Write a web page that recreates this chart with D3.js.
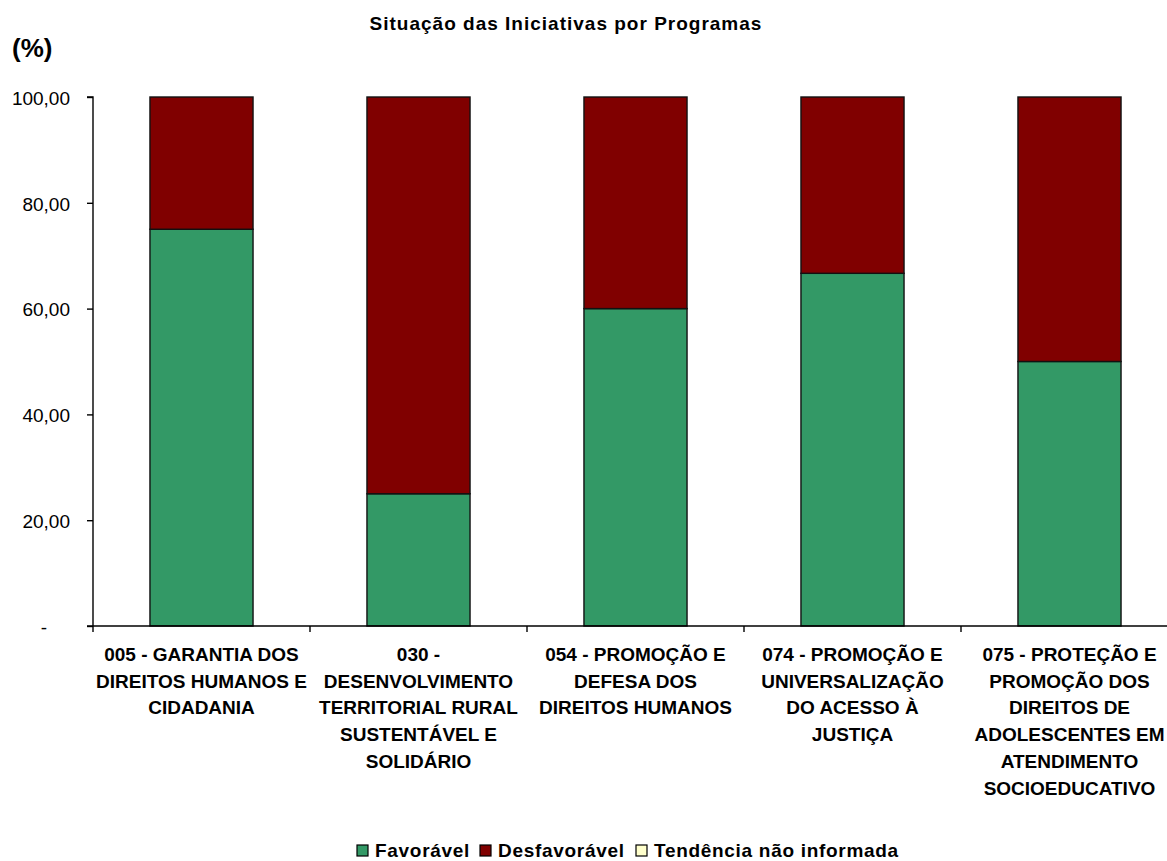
<!DOCTYPE html>
<html><head><meta charset="utf-8">
<script src="https://cdn.jsdelivr.net/npm/d3@7"></script>
<style>body{margin:0;background:#fff}svg{font-family:"Liberation Sans",Arial,sans-serif}</style>
</head><body><svg id="c" width="1167" height="861"></svg>
<script>
const categories = [
  "005 - GARANTIA DOS|DIREITOS HUMANOS E|CIDADANIA",
  "030 -|DESENVOLVIMENTO|TERRITORIAL RURAL|SUSTENTÁVEL E|SOLIDÁRIO",
  "054 - PROMOÇÃO E|DEFESA DOS|DIREITOS HUMANOS",
  "074 - PROMOÇÃO E|UNIVERSALIZAÇÃO|DO ACESSO À|JUSTIÇA",
  "075 - PROTEÇÃO E|PROMOÇÃO DOS|DIREITOS DE|ADOLESCENTES EM|ATENDIMENTO|SOCIOEDUCATIVO"
];
const favoravel = [75, 25, 60, 66.67, 50];
const desfavoravel = [25, 75, 40, 33.33, 50];
const naoInformada = [0, 0, 0, 0, 0];
const seriesNames = ["Favorável", "Desfavorável", "Tendência não informada"];
const seriesColors = ["#339966", "#800000", "#FFFFCC"];
const yTicks = [0, 20, 40, 60, 80, 100];
const yTickLabels = ["-", "20,00", "40,00", "60,00", "80,00", "100,00"];

(function () {
const svg = d3.select("#c");
const pLeft = 93, pTop = 97, pBottom = 626, bandW = 217;
const x = d3.scaleBand().domain(d3.range(categories.length))
  .range([pLeft, pLeft + bandW * categories.length]).paddingInner(0.525).paddingOuter(0.2625);
const y = d3.scaleLinear().domain([0, 100]).range([pBottom, pTop]);

const rows = categories.map((c, i) => ({i, "Favorável": favoravel[i], "Desfavorável": desfavoravel[i], "Tendência não informada": naoInformada[i]}));
const stack = d3.stack().keys(seriesNames)(rows);

svg.append("text").attr("x", 566).attr("y", 30).attr("text-anchor", "middle")
  .attr("font-size", 19).attr("font-weight", "bold").attr("letter-spacing", 1)
  .text("Situação das Iniciativas por Programas");
svg.append("text").attr("x", 12).attr("y", 57).attr("font-size", 26).attr("font-weight", "bold").text("(%)");

const ya = svg.append("g").attr("transform", `translate(${pLeft},0)`)
  .call(d3.axisLeft(y).tickValues(yTicks).tickFormat((d, i) => yTickLabels[i]).tickSize(6).tickPadding(17));
ya.select(".domain").attr("stroke", "#000").attr("stroke-width", 1.4).attr("d", `M-6,${pTop}H0V${pBottom}`);
ya.selectAll("text").attr("font-size", 19).attr("fill", "#000").attr("dy", "0.38em")
  .attr("font-family", "Liberation Sans, Arial, sans-serif");
ya.selectAll(".tick").filter(d => d === 0).select("text").attr("x", -46);
ya.selectAll("line").attr("stroke", "#000").attr("stroke-width", 1.4);

stack.forEach((s, k) => {
  svg.append("g").selectAll("rect").data(s).join("rect")
    .attr("x", d => x(d.data.i)).attr("width", x.bandwidth())
    .attr("y", d => y(d[1])).attr("height", d => y(d[0]) - y(d[1]))
    .attr("fill", seriesColors[k]).attr("stroke", "#111").attr("stroke-width", 1.4)
    .style("display", d => (d[1] - d[0]) > 0 ? null : "none");
});

const xa = svg.append("g");
xa.append("line").attr("x1", pLeft - 6).attr("x2", 1167).attr("y1", pBottom).attr("y2", pBottom)
  .attr("stroke", "#000").attr("stroke-width", 1.4);
d3.range(categories.length + 1).forEach(i => {
  const xv = pLeft + bandW * i;
  xa.append("line").attr("x1", xv).attr("x2", xv).attr("y1", pBottom).attr("y2", pBottom + 6)
    .attr("stroke", "#000").attr("stroke-width", 1.4);
});
categories.forEach((c, i) => {
  const t = svg.append("text").attr("text-anchor", "middle").attr("font-size", 19).attr("font-weight", "bold");
  c.split("|").forEach((ln, j) => {
    t.append("tspan").attr("x", x(i) + x.bandwidth() / 2).attr("y", 661 + j * 26.7).text(ln);
  });
});

const lg = svg.append("g").attr("transform", "translate(0,857)");
const legendX = [357, 480, 636];
seriesNames.forEach((n, k) => {
  lg.append("rect").attr("x", legendX[k]).attr("y", -12).attr("width", 11).attr("height", 11)
    .attr("fill", seriesColors[k]).attr("stroke", "#000").attr("stroke-width", 1.2);
  lg.append("text").attr("x", legendX[k] + 18).attr("y", 0).attr("font-size", 19)
    .attr("font-weight", "bold").attr("letter-spacing", 0.7).text(n);
});
})();
</script></body></html>
